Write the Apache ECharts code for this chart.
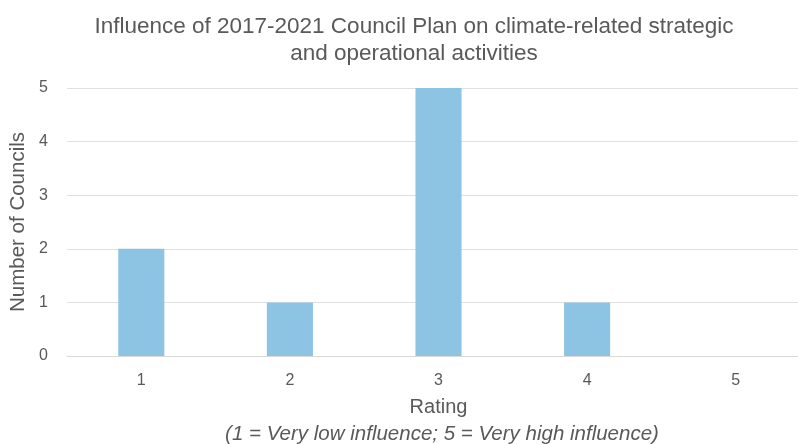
<!DOCTYPE html>
<html>
<head>
<meta charset="utf-8">
<script src="https://cdn.jsdelivr.net/npm/echarts@6/dist/echarts.min.js"></script>
<style>
  html, body { margin: 0; padding: 0; background: #fff; overflow: hidden; }
  /* the plot area runs a little past the right edge of the window */
  #chart { width: 810px; height: 444px; }
</style>
</head>
<body>
<div id="chart"></div>
<script>
// Ratings on a 1-5 scale and how many councils chose each one
const ratings = ['1', '2', '3', '4', '5'];
const councilCounts = [2, 1, 5, 1, 0];
const yTicks = [0, 1, 2, 3, 4, 5];

const titleText = 'Influence of 2017-2021 Council Plan on climate-related strategic\nand operational activities';
const xAxisTitle = 'Rating';
const xAxisNote = '(1 = Very low influence; 5 = Very high influence)';
const yAxisTitle = 'Number of Councils';

const textColor = '#595959';
const fontFamily = 'Liberation Sans, Arial, sans-serif';

const chart = echarts.init(document.getElementById('chart'), null, { renderer: 'canvas' });

chart.setOption({
  animation: false,
  backgroundColor: '#ffffff',
  textStyle: { fontFamily: fontFamily, color: textColor },
  title: [
    {
      text: titleText,
      left: 409,
      top: 8,
      textAlign: 'center',
      textStyle: { fontFamily: fontFamily, fontSize: 22.5, fontWeight: 'normal', color: textColor, lineHeight: 27 }
    },
    {
      text: xAxisNote,
      left: 437,
      top: 419,
      textAlign: 'center',
      textStyle: { fontFamily: fontFamily, fontSize: 20.5, fontStyle: 'italic', fontWeight: 'normal', color: textColor }
    }
  ],
  grid: { left: 66, right: 0, top: 88, bottom: 88, containLabel: false },
  xAxis: {
    type: 'category',
    data: ratings,
    name: xAxisTitle,
    nameLocation: 'middle',
    nameGap: 41,
    nameMoveOverlap: false,
    nameTextStyle: { fontFamily: fontFamily, fontSize: 20, color: textColor },
    axisLine: { show: true, lineStyle: { color: '#d9d9d9', width: 1 } },
    axisTick: { show: false },
    axisLabel: { fontFamily: fontFamily, fontSize: 16, color: textColor, margin: 17 }
  },
  yAxis: {
    type: 'value',
    min: yTicks[0],
    max: yTicks[yTicks.length - 1],
    interval: 1,
    name: yAxisTitle,
    nameLocation: 'middle',
    nameGap: 38,
    nameMoveOverlap: false,
    nameTextStyle: { fontFamily: fontFamily, fontSize: 20.5, color: textColor },
    axisLine: { show: false },
    axisTick: { show: false },
    axisLabel: { fontFamily: fontFamily, fontSize: 16, color: textColor, margin: 19 },
    splitLine: { show: true, lineStyle: { color: '#e0e0e0', width: 1 } }
  },
  series: [
    {
      type: 'bar',
      data: councilCounts,
      barWidth: '31%',
      itemStyle: { color: '#8dc3e3', borderWidth: 0 },
      emphasis: { disabled: true }
    }
  ]
});
</script>
</body>
</html>
